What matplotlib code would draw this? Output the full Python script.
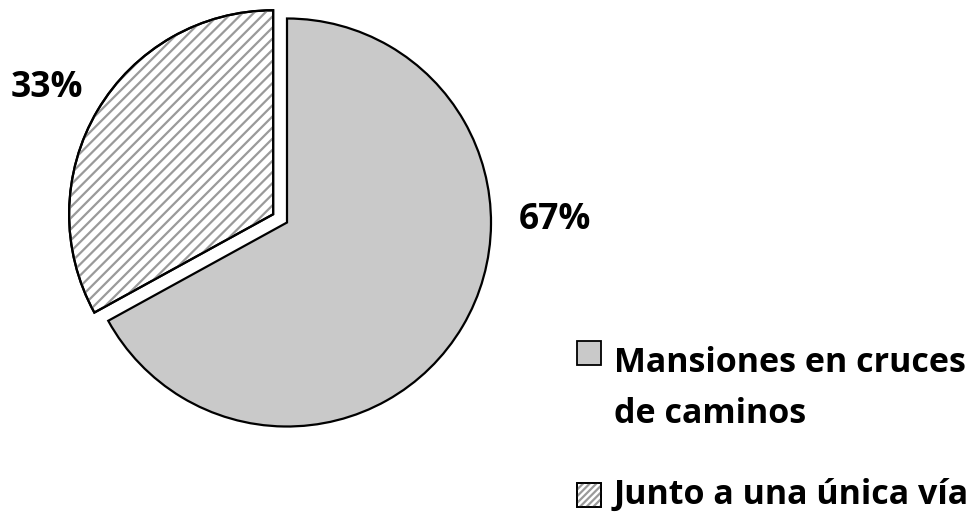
import matplotlib
matplotlib.use("Agg")
import matplotlib.pyplot as plt
from matplotlib.patches import PathPatch, Rectangle

# Data
categories = ["Mansiones en cruces\nde caminos", "Junto a una única vía"]
values = [67, 33]

plt.rcParams["font.family"] = ["Open Sans", "DejaVu Sans"]
plt.rcParams["hatch.linewidth"] = 1.6

W, H = 979, 516
fig = plt.figure(figsize=(W / 100, H / 100), dpi=100)
ax = fig.add_axes([0, 0, 1, 1])

face_colors = ["#c9c9c9", "#ffffff"]
hatches = [None, "///"]
hatch_color = "#9a9a9a"
edge_lw = 1.6

center = (287, H - 222.5)
radius = 204
explode_frac = [0, 0.079]
wedges, _ = ax.pie(
    values,
    colors=face_colors,
    startangle=90,
    counterclock=False,
    explode=[e * radius for e in explode_frac],
    center=center,
    radius=radius,
    wedgeprops=dict(edgecolor="black", linewidth=edge_lw),
)

ax.set_xlim(0, W)
ax.set_ylim(0, H)
ax.set_aspect("auto")
ax.axis("off")


def add_hatch(patch_path, transform, hatch):
    hp = PathPatch(patch_path, transform=transform, facecolor="none",
                   edgecolor=hatch_color, linewidth=0, hatch=hatch, zorder=2)
    ax.add_patch(hp)
    outline = PathPatch(patch_path, transform=transform, facecolor="none",
                        edgecolor="black", linewidth=edge_lw, zorder=3)
    ax.add_patch(outline)


for w, h in zip(wedges, hatches):
    if h:
        add_hatch(w.get_path(), w.get_transform(), h)

# Percentage labels
pct_pos = [(519, H - 229), (11, H - 97)]
total = sum(values)
for v, (x, y) in zip(values, pct_pos):
    ax.text(x, y, f"{round(100 * v / total)}%", fontsize=25.5, fontweight="bold",
            ha="left", va="baseline", color="black")

# Legend
leg_box = [(577, 341), (577, 483)]
leg_text = [(614, 372), (614, 504)]
box = 24
for i, lab in enumerate(categories):
    bx, by = leg_box[i]
    r = Rectangle((bx, H - by - box), box, box, facecolor=face_colors[i],
                  edgecolor="black", linewidth=1.3, zorder=2)
    ax.add_patch(r)
    if hatches[i]:
        ax.add_patch(Rectangle((bx, H - by - box), box, box, facecolor="none",
                               edgecolor=hatch_color, linewidth=0,
                               hatch="/////", zorder=3))
        ax.add_patch(Rectangle((bx, H - by - box), box, box, facecolor="none",
                               edgecolor="black", linewidth=1.3, zorder=4))
    tx, ty = leg_text[i]
    lines = lab.split("\n")
    for j, line in enumerate(lines):
        ax.text(tx, H - ty - 51 * j, line, fontsize=24.5, fontweight="bold",
                ha="left", va="baseline", color="black")

fig.savefig("out.png", dpi=100)
